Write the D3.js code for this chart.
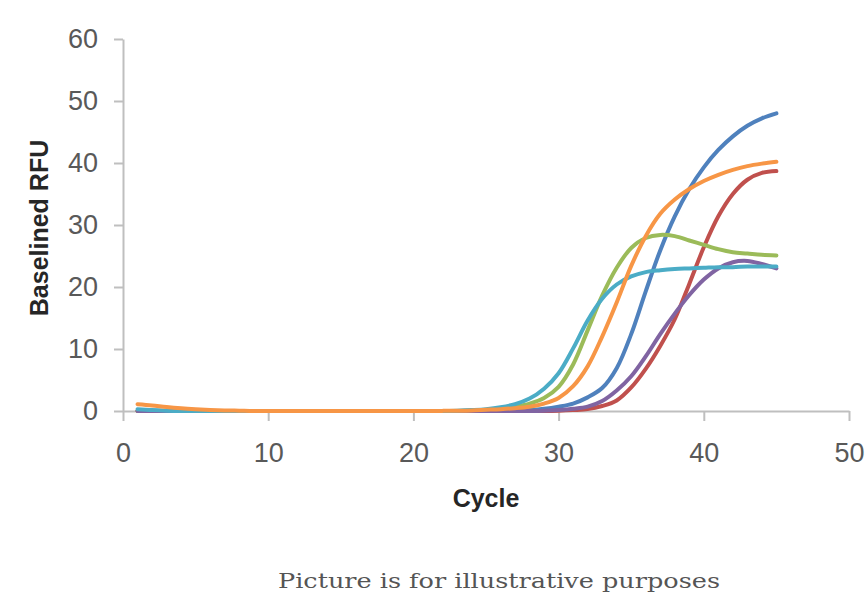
<!DOCTYPE html>
<html>
<head>
<meta charset="utf-8">
<script src="https://cdn.jsdelivr.net/npm/d3@7"></script>
<style>
  body { margin: 0; background: #fff; }
  #chart svg { display: block; }
</style>
</head>
<body>
<div id="chart"></div>
<script>
// cycles 1..45, values
var cycles = d3.range(1, 46);

var blueVals = [0,0,0,0,0,0,0,0,0,0, 0,0,0,0,0,0,0,0,0,0, 0,0,0,0,0,0,0.05,0.15,0.35,0.7,
  1.2,2.2,3.7,6.9,12.4,19.3,25.9,31.4,35.8,39.3, 42.1,44.3,46,47.2,48];
var redVals = [0,0,0,0,0,0,0,0,0,0, 0,0,0,0,0,0,0,0,0,0, 0,0,0,0,0,0,0,0,0,0.05,
  0.15,0.3,0.8,1.7,3.8,6.8,10.5,14.8,20.5,26.4, 31.4,35,37.3,38.4,38.7];
var greenVals = [0,0,0,0,0,0,0,0,0,0, 0,0,0,0,0,0,0,0,0,0, 0,0,0,0.05,0.15,0.35,0.7,1.2,2.1,3.9,
  7.5,13,18.6,23.1,26.3,27.9,28.4,28.2,27.5,26.8, 26.1,25.6,25.4,25.2,25.1];
var purpleVals = [0,0,0,0,0,0,0,0,0,0, 0,0,0,0,0,0,0,0,0,0, 0,0,0,0,0,0,0,0,0.05,0.15,
  0.35,0.7,1.6,3.3,5.6,8.8,12.4,15.7,18.7,21.2, 23,24,24.2,23.7,23];
var cyanVals = [0.3,0.15,0.05,0,0,0,0,0,0,0, 0,0,0,0,0,0,0,0,0,0, 0,0,0.05,0.15,0.3,0.6,1.1,2,3.6,6.1,
  10.1,14.6,18.1,20.4,21.7,22.4,22.7,22.9,23,23.1, 23.2,23.2,23.3,23.3,23.3];
var orangeVals = [1.1,0.9,0.65,0.45,0.3,0.18,0.1,0.05,0,0, 0,0,0,0,0,0,0,0,0,0, 0,0.02,0.05,0.1,0.2,0.3,0.45,0.7,1.2,2.1,
  4,7.2,12,17.5,23.4,28.2,31.8,34.1,35.8,37.1, 38.1,38.9,39.5,39.9,40.2];

var seriesNames = ["blue", "red", "green", "purple", "cyan", "orange"];
var seriesVals = [blueVals, redVals, greenVals, purpleVals, cyanVals, orangeVals];
var seriesColors = ["#4f81bd", "#c0504d", "#9bbb59", "#8064a2", "#4bacc6", "#f79646"];

var xTicks = [0, 10, 20, 30, 40, 50];
var yTicks = [0, 10, 20, 30, 40, 50, 60];

var width = 866, height = 603;

var svg = d3.select("#chart").append("svg")
  .attr("width", width)
  .attr("height", height);

var x = d3.scaleLinear().domain([0, 50]).range([123, 849]);
var y = d3.scaleLinear().domain([0, 60]).range([411, 39]);

// axes, excel style
var yAxis = svg.append("g")
  .attr("transform", "translate(" + x(0) + ",0)")
  .call(d3.axisLeft(y).tickValues(yTicks).tickSize(9).tickSizeOuter(0).tickPadding(16));
var xAxis = svg.append("g")
  .attr("transform", "translate(0," + y(0) + ")")
  .call(d3.axisBottom(x).tickValues(xTicks).tickSize(10).tickSizeOuter(0).tickPadding(22));

[xAxis, yAxis].forEach(function(g) {
  g.select(".domain").attr("stroke", "#bfbfbf").attr("stroke-width", 2);
  g.selectAll(".tick line").attr("stroke", "#bfbfbf").attr("stroke-width", 2);
  g.selectAll(".tick text")
    .attr("fill", "#595959")
    .style("font-family", "'Liberation Sans', Arial, sans-serif")
    .style("font-size", "27px");
});

// the curves
var line = d3.line()
  .x(function(d) { return x(d[0]); })
  .y(function(d) { return y(d[1]); })
  .curve(d3.curveCatmullRom.alpha(0.5));

svg.append("g").selectAll("path")
  .data(seriesVals)
  .enter().append("path")
  .attr("class", function(d, i) { return "series " + seriesNames[i]; })
  .attr("d", function(vals) {
    return line(cycles.map(function(c, i) { return [c, vals[i]]; }));
  })
  .attr("fill", "none")
  .attr("stroke", function(d, i) { return seriesColors[i]; })
  .attr("stroke-width", 4)
  .attr("stroke-linecap", "round");

// axis titles
svg.append("text")
  .attr("x", 486)
  .attr("y", 507)
  .attr("text-anchor", "middle")
  .style("font-family", "'Liberation Sans', Arial, sans-serif")
  .style("font-weight", "bold")
  .style("font-size", "25px")
  .attr("fill", "#262626")
  .text("Cycle");

svg.append("text")
  .attr("transform", "translate(48,228) rotate(-90)")
  .attr("text-anchor", "middle")
  .style("font-family", "'Liberation Sans', Arial, sans-serif")
  .style("font-weight", "bold")
  .style("font-size", "25px")
  .attr("fill", "#262626")
  .text("Baselined RFU");

// caption
svg.append("text")
  .attr("x", 499)
  .attr("y", 588)
  .attr("text-anchor", "middle")
  .attr("textLength", 442)
  .attr("lengthAdjust", "spacingAndGlyphs")
  .style("font-family", "'DejaVu Serif', serif")
  .style("font-size", "20px")
  .attr("fill", "#555")
  .text("Picture is for illustrative purposes");
</script>
</body>
</html>
